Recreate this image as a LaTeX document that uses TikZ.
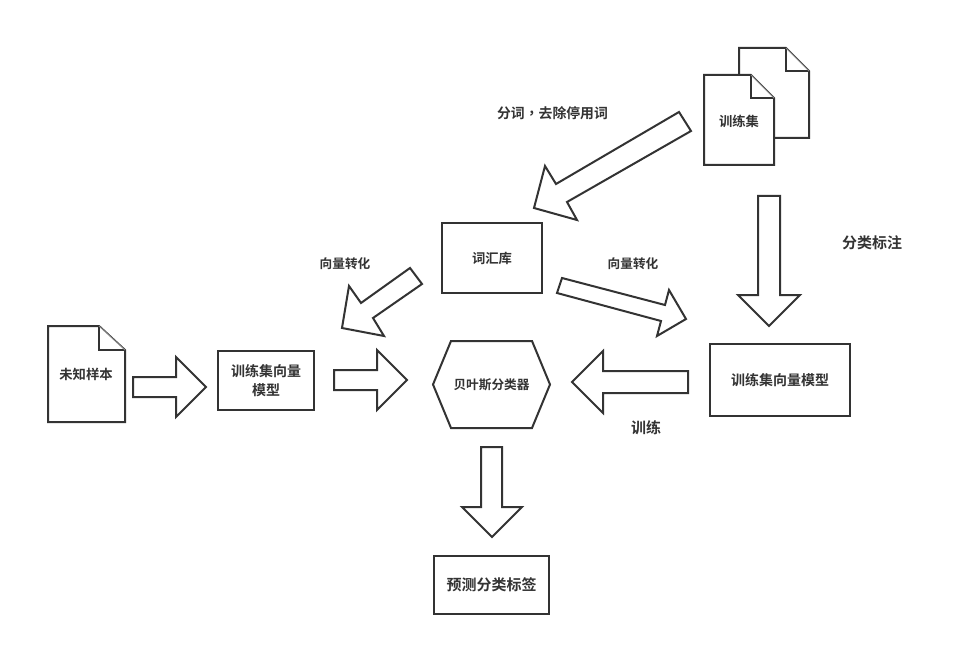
\documentclass[tikz,border=0pt]{standalone}
\usepackage{fontspec}
\setmainfont{Noto Sans CJK SC}[BoldFont={Noto Sans CJK SC Bold}]
\newfontfamily\centredpunct{Noto Sans CJK TC}[BoldFont={Noto Sans CJK TC Bold}]
\definecolor{ink}{HTML}{333333}
\tikzset{
  x=0.75pt, y=-0.75pt,
  outline/.style={draw=ink, line width=1.5pt, fill=white, line join=miter},
  blockarrow/.style={outline},
  boxnode/.style={outline, rectangle, inner sep=0pt, align=center, text=ink, font=\bfseries\fontsize{10.5pt}{14pt}\selectfont},
  lbl/.style={text=ink, inner sep=0pt, font=\bfseries\fontsize{10pt}{12pt}\selectfont},
  smalllbl/.style={lbl, font=\bfseries\fontsize{9.5pt}{12pt}\selectfont},
  biglbl/.style={lbl, font=\bfseries\fontsize{11.25pt}{13pt}\selectfont},
  foldpart/.style={draw=ink, line width=1.1pt, fill=white},
  foldline/.style={draw=ink!60, line width=0.7pt}
}
\begin{document}
\begin{tikzpicture}
\useasboundingbox (0,0) rectangle (980,645);
\fill[white] (0,0) rectangle (980,645);

% stacked training documents
\draw[outline] (739,48) -- (786,48) -- (809,71) -- (809,138) -- (739,138) -- cycle;
\draw[foldpart] (786,48) -- (786,71) -- (809,71);
\draw[foldline] (786,48) -- (809,71);
\draw[outline] (704,75) -- (751,75) -- (774,98) -- (774,165) -- (704,165) -- cycle;
\draw[foldpart] (751,75) -- (751,98) -- (774,98);
\draw[foldline] (751,75) -- (774,98);
\node[lbl] (docs) at (739,121) {训练集};

% unknown sample document
\draw[outline] (48,326) -- (99,326) -- (125,350) -- (125,422) -- (48,422) -- cycle;
\draw[foldpart] (99,326) -- (99,350) -- (125,350);
\draw[foldline] (99,326) -- (125,350);
\node[lbl] (sample) at (86,374) {未知样本};

% boxes
\node[boxnode, minimum width=75pt, minimum height=52.5pt, font=\bfseries\fontsize{10pt}{13pt}\selectfont] (vocab) at (492,258) {词汇库};
\node[boxnode, minimum width=72pt, minimum height=44.25pt] (leftmodel) at (266,380.5) {训练集向量\\模型};
\node[boxnode, minimum width=105pt, minimum height=54pt] (rightmodel) at (780,380) {训练集向量模型};
\node[boxnode, minimum width=86.25pt, minimum height=43.5pt, font=\bfseries\fontsize{11.25pt}{14pt}\selectfont] (result) at (491.5,585) {预测分类标签};

% classifier hexagon
\draw[outline] (433,384.5) -- (451,341) -- (532,341) -- (550,384.5) -- (532,428) -- (451,428) -- cycle;
\node[smalllbl] (bayes) at (491.5,384.5) {贝叶斯分类器};

% block arrows
\draw[blockarrow] (679,112) -- (691,131) -- (567,202) -- (577,220) -- (534,208) -- (545,166) -- (556,184) -- cycle;
\draw[blockarrow] (758,196) -- (780,196) -- (780,295) -- (800,295) -- (769,326) -- (738,295) -- (758,295) -- cycle;
\draw[blockarrow] (410,268) -- (422,284) -- (373,318) -- (384,336) -- (342,328) -- (349,286) -- (361,303) -- cycle;
\draw[blockarrow] (562,278) -- (665,305) -- (669,290) -- (686,319) -- (657,336) -- (661,321) -- (557,293) -- cycle;
\draw[blockarrow] (133,377) -- (176,377) -- (176,357) -- (206,387) -- (176,417) -- (176,397) -- (133,397) -- cycle;
\draw[blockarrow] (334,370) -- (377,370) -- (377,350) -- (407,380) -- (377,410) -- (377,390) -- (334,390) -- cycle;
\draw[blockarrow] (688,371) -- (603,371) -- (603,351) -- (572,382) -- (603,413) -- (603,393) -- (688,393) -- cycle;
\draw[blockarrow] (481,447) -- (502,447) -- (502,507) -- (522,507) -- (492,537) -- (462,507) -- (481,507) -- cycle;

% step captions
\node[lbl, font=\bfseries\fontsize{10.4pt}{12pt}\selectfont] (cap1) at (552.5,113) {分词{\centredpunct ，}去除停用词};
\node[biglbl] (cap2) at (872,243) {分类标注};
\node[smalllbl] (cap3) at (345,264) {向量转化};
\node[smalllbl] (cap4) at (633,264) {向量转化};
\node[biglbl] (cap5) at (646,428) {训练};
\end{tikzpicture}
\end{document}
